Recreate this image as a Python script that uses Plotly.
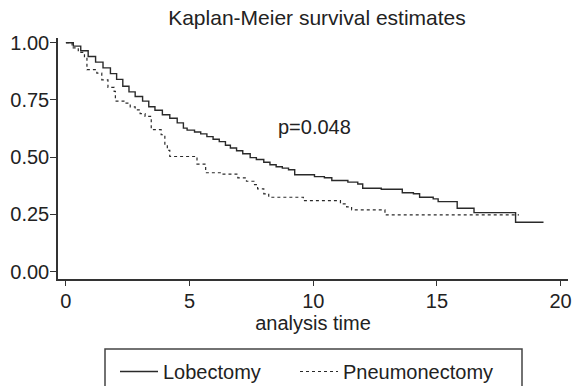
import plotly.graph_objects as go

# Kaplan-Meier step data
lob_time = [0, 0.3, 0.6, 0.9, 1.2, 1.5, 1.8, 2.05, 2.3, 2.55, 2.8, 3.1, 3.35, 3.6, 3.9,
            4.2, 4.5, 4.75, 4.9, 5.2, 5.45, 5.7, 5.95, 6.2, 6.45, 6.65, 6.9, 7.15, 7.45,
            7.7, 8.0, 8.25, 8.5, 8.75, 9.0, 9.25, 10.05, 10.45, 10.75, 11.4, 11.8, 12.0,
            12.75, 13.6, 14.05, 14.3, 14.85, 15.05, 15.82, 16.5, 18.18, 19.31]
lob_surv = [1.0, 0.985, 0.965, 0.94, 0.915, 0.89, 0.865, 0.84, 0.81, 0.785, 0.765, 0.745,
            0.72, 0.705, 0.685, 0.67, 0.65, 0.627, 0.618, 0.61, 0.602, 0.59, 0.578, 0.568,
            0.552, 0.54, 0.528, 0.515, 0.498, 0.49, 0.478, 0.467, 0.458, 0.452, 0.445,
            0.423, 0.415, 0.41, 0.398, 0.391, 0.383, 0.364, 0.36, 0.345, 0.34, 0.325,
            0.318, 0.306, 0.277, 0.258, 0.216, 0.216]

pn_time = [0, 0.25, 0.5, 0.75, 0.85, 1.25, 1.45, 1.7, 1.95, 2.0, 2.4, 2.6, 2.8, 3.0, 3.2,
           3.45, 3.85, 4.0, 4.1, 4.2, 5.3, 5.65, 6.3, 6.95, 7.3, 7.6, 7.75, 8.0, 8.2, 9.6,
           11.1, 11.35, 11.55, 12.9, 18.32]
pn_surv = [1.0, 0.977, 0.958, 0.935, 0.882, 0.867, 0.838, 0.805, 0.787, 0.745, 0.736,
           0.72, 0.707, 0.69, 0.678, 0.62, 0.598, 0.554, 0.53, 0.503, 0.47, 0.432, 0.426,
           0.41, 0.395, 0.38, 0.362, 0.34, 0.325, 0.31, 0.296, 0.283, 0.27, 0.248, 0.248]

y_ticks = [0, 0.25, 0.5, 0.75, 1.0]
x_ticks = [0, 5, 10, 15, 20]
series_names = ["Lobectomy", "Pneumonectomy"]

FONT = "Liberation Sans, Arial, Helvetica, sans-serif"
TXT = "#222222"
LINE = "#2a2a2a"

fig = go.Figure()
fig.add_trace(go.Scatter(x=lob_time, y=lob_surv, mode="lines", name=series_names[0],
                         legend="legend",
                         line=dict(shape="hv", color=LINE, width=1.4)))
fig.add_trace(go.Scatter(x=pn_time, y=pn_surv, mode="lines", name=series_names[1],
                         legend="legend2",
                         line=dict(shape="hv", color=LINE, width=1.2, dash="dot")))

fig.add_annotation(x=10.06, y=0.633, xref="x", yref="y", text="p=0.048", showarrow=False,
                   font=dict(family=FONT, size=20, color=TXT))

# legend box outline (extends below the visible page, as in the reference)
fig.add_shape(type="rect", xref="paper", yref="paper", x0=(105 - 58) / 510, x1=(522 - 58) / 510,
              y0=(279 - 392) / 241, y1=(279 - 349) / 241,
              line=dict(color="#444444", width=1.5), fillcolor="rgba(0,0,0,0)")

leg_common = dict(orientation="h", xanchor="left", xref="container",
                  y=1 - 352 / 386, yanchor="top", yref="container",
                  font=dict(family=FONT, size=20, color=TXT), itemwidth=38,
                  bgcolor="rgba(0,0,0,0)", borderwidth=0)

fig.update_layout(
    width=576, height=386,
    margin=dict(l=58, r=8, t=38, b=107, autoexpand=False),
    paper_bgcolor="white", plot_bgcolor="white",
    font=dict(family=FONT, size=20, color=TXT),
    title=dict(text="Kaplan-Meier survival estimates", x=317 / 576, xref="container",
               xanchor="center", y=1 - 18 / 386, yref="container", yanchor="middle",
               font=dict(family=FONT, size=21, color=TXT)),
    showlegend=True,
    legend=dict(x=115 / 576, **leg_common),
    legend2=dict(x=295 / 576, **leg_common),
    xaxis=dict(range=[-0.32, 20.3], tickvals=x_ticks, ticks="outside", ticklen=5,
               tickwidth=1.3, tickcolor="#333333", showline=True, linecolor="#333333",
               linewidth=1.5, showgrid=False, zeroline=False, automargin=False,
               ticklabelstandoff=-2,
               title=dict(text="analysis time", standoff=0, font=dict(family=FONT, size=20, color=TXT)),
               tickfont=dict(family=FONT, size=20, color=TXT)),
    yaxis=dict(range=[-0.032, 1.0205], tickvals=y_ticks, tickformat=".2f", ticks="outside",
               ticklen=6, tickwidth=1.3, tickcolor="#333333", showline=True,
               linecolor="#333333", linewidth=1.5, showgrid=False, zeroline=False,
               automargin=False, ticklabelstandoff=-3,
               tickfont=dict(family=FONT, size=20, color=TXT)),
)

fig.write_html("out.html")
